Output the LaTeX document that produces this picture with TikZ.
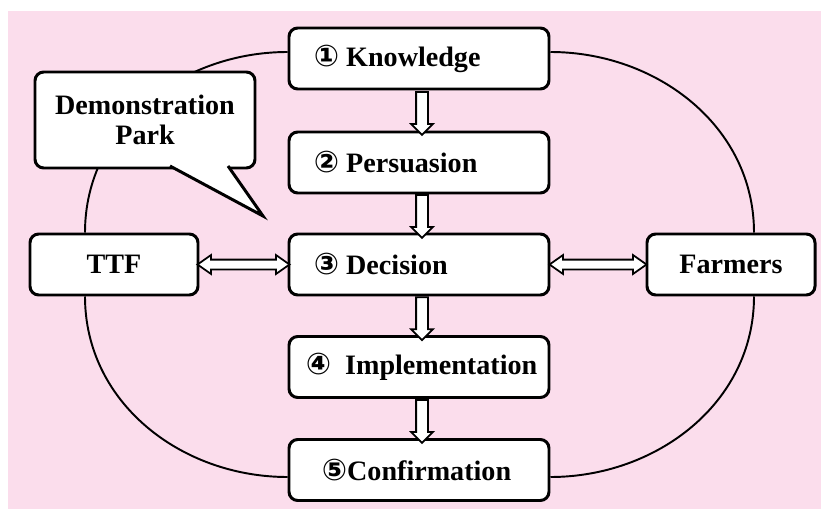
\documentclass[tikz,border=0pt]{standalone}
\usepackage{fontspec}
\setmainfont{Liberation Serif}
\newfontfamily\boxfont{Liberation Serif}
\newfontfamily\circfont{DejaVu Sans}
\usepackage{tikz}
\usetikzlibrary{arrows.meta, positioning, shapes.arrows, calc}
\definecolor{bgpink}{RGB}{251, 221, 236}
\newcommand{\circno}[1]{{\circfont\fontsize{17}{17}\selectfont #1}}

\begin{document}
\begin{tikzpicture}[
          stage/.style={draw,fill=white,rounded corners=5pt,line width=1.7pt,
                        minimum width=5.2cm,minimum height=1.22cm},
          stagetext/.style={inner sep=0pt,
                            font=\boxfont\bfseries\fontsize{16}{17}\selectfont},
          side/.style={draw,fill=white,rounded corners=5pt,line width=1.7pt,
                       minimum width=3.36cm,minimum height=1.22cm,
                       font=\boxfont\bfseries\fontsize{16}{17}\selectfont},
          flow/.style={single arrow,draw,fill=white,line width=1pt,
                       inner xsep=0pt,inner ysep=0.1cm,
                       single arrow head extend=0.1cm,single arrow tip angle=90,
                       minimum height=0.86cm,rotate=-90},
          link/.style={double arrow,draw,fill=white,line width=1pt,
                       inner xsep=0pt,inner ysep=0.08cm,
                       double arrow head extend=0.09cm,double arrow tip angle=70},
          ring/.style={line width=1.1pt}]
        \useasboundingbox (0,0) rectangle (16.42,10.18);
        \fill[bgpink] (0.16,0) rectangle (16.42,9.96);

        \node[stage](k) at (8.38,9.01){};
        \node[stagetext,right=0.52cm of k.west](kt){\circno{①} Knowledge};
        \node[stage](p) at (8.38,6.93){};
        \node[stagetext,right=0.52cm of p.west](pt){\circno{②} Persuasion};
        \node[stage](d) at (8.38,4.89){};
        \node[stagetext,right=0.52cm of d.west](dt){\circno{③} Decision};
        \node[stage](i) at (8.38,2.84){};
        \node[stagetext,right=0.36cm of i.west](it){\circno{④}\hspace{0.28cm}Implementation};
        \node[stage](c) at (8.38,0.78){};
        \node[stagetext,right=0.68cm of c.west](ct){\circno{⑤}Confirmation};

        \node[side](t) at (2.28,4.89){TTF};
        \node[side](f) at (14.62,4.89){Farmers};

        \draw[ring]([yshift=0.13cm]k.west) to[out=180,in=90] ([xshift=-0.58cm]t.north);
        \draw[ring]([xshift=-0.58cm]t.south) to[out=-90,in=180] ([yshift=-0.14cm]c.west);
        \draw[ring]([yshift=0.13cm]k.east) to[out=0,in=90] ([xshift=0.46cm]f.north);
        \draw[ring]([xshift=0.46cm]f.south) to[out=-90,in=0] ([yshift=-0.14cm]c.east);

        \node[flow](a1) at ($(k.south)!0.5!(p.north)+(0.06,0)$){};
        \node[flow](a2) at ($(p.south)!0.5!(d.north)+(0.06,0)$){};
        \node[flow](a3) at ($(d.south)!0.5!(i.north)+(0.06,0)$){};
        \node[flow](a4) at ($(i.south)!0.5!(c.north)+(0.06,0)$){};
        \node[link,minimum height=1.84cm](b1) at ($(t.east)!0.5!(d.west)$){};
        \node[link,minimum height=1.94cm](b2) at ($(d.east)!0.5!(f.west)$){};

        \node[side,minimum width=4.4cm,minimum height=1.92cm,align=center](dp)
          at (2.9,7.78){Demonstration\\Park};
        \coordinate (tip) at (5.26,5.86);
        \fill[white]($(dp.south)+(0.5,0.07)$) -- (tip) -- ($(dp.south)+(1.66,0.07)$) -- cycle;
        \draw[line width=1.7pt]($(dp.south)+(0.5,0.07)$) -- (tip)
          -- ($(dp.south)+(1.66,0.07)$);
      \end{tikzpicture}
\end{document}
